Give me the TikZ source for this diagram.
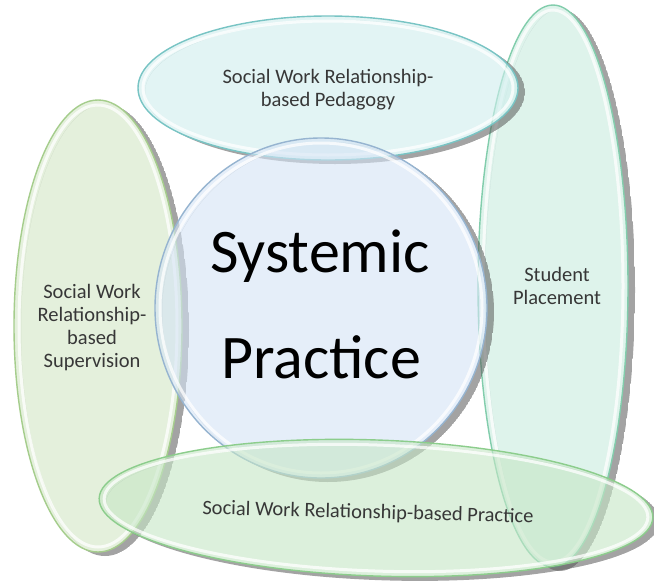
\documentclass[tikz,border=0pt]{standalone}
\usepackage{fontspec}
\setmainfont{Carlito}
\definecolor{topfill}{RGB}{207,238,238}
\definecolor{topedge}{RGB}{120,196,196}
\definecolor{cirfill}{RGB}{212,227,245}
\definecolor{ciredge}{RGB}{150,180,208}
\definecolor{leftfill}{RGB}{210,230,197}
\definecolor{leftedge}{RGB}{165,205,140}
\definecolor{rightfill}{RGB}{200,235,223}
\definecolor{rightedge}{RGB}{130,205,172}
\definecolor{botfill}{RGB}{198,230,198}
\definecolor{botedge}{RGB}{140,205,140}
\definecolor{labelgray}{RGB}{55,55,55}
\newcommand\glassshape[7]{%
  \begin{scope}[shift={(#1,#2)}, rotate=#5]
    \begin{scope}
      \clip (7,4) ellipse [x radius=#3, y radius=#4];
      \fill[black!65, fill opacity=0.55, even odd rule]
        (7,4) ellipse [x radius=#3, y radius=#4]
        (0,0) ellipse [x radius=#3, y radius=#4];
    \end{scope}
    \fill[#6, fill opacity=0.6] (0,0) ellipse [x radius=#3, y radius=#4];
    \draw[white, line width=3pt, opacity=0.75] (0,0) ellipse [x radius=#3-5, y radius=#4-5];
    \draw[#7, line width=1.4pt] (0,0) ellipse [x radius=#3, y radius=#4];
  \end{scope}}
\tikzset{
  smalllabel/.style={align=center, text=labelgray, font=\fontsize{20.5}{23}\selectfont},
  biglabel/.style={anchor=base, text=black, font=\fontsize{62}{70}\selectfont}
}
\begin{document}
\begin{tikzpicture}[x=1pt, y=-1pt]
  \useasboundingbox (0,0) rectangle (654,587);
  \fill[white] (0,0) rectangle (654,587);
  % left ellipse
  \glassshape{98}{326}{84}{226}{0}{leftfill}{leftedge}
  % right ellipse
  \glassshape{553}{286}{75}{281}{0}{rightfill}{rightedge}
  % top ellipse
  \glassshape{328}{88}{190}{72}{0}{topfill}{topedge}
  % central circle
  \glassshape{321}{308}{166}{170}{0}{cirfill}{ciredge}
  % bottom ellipse
  \glassshape{376}{508}{277}{68}{-2}{botfill}{botedge}
  % labels
  \node[smalllabel] (ped) at (328,90) {Social Work Relationship-\\based Pedagogy};
  \node[smalllabel] (sup) at (92,328) {Social Work\\Relationship-\\based\\Supervision};
  \node[smalllabel] (pla) at (557,286) {Student\\Placement};
  \node[smalllabel, rotate=-1.5] (pra) at (368,513) {Social Work Relationship-based Practice};
  \node[biglabel] (sys) at (320,272) {Systemic};
  \node[biglabel] (prc) at (321,378) {Practice};
\end{tikzpicture}
\end{document}
